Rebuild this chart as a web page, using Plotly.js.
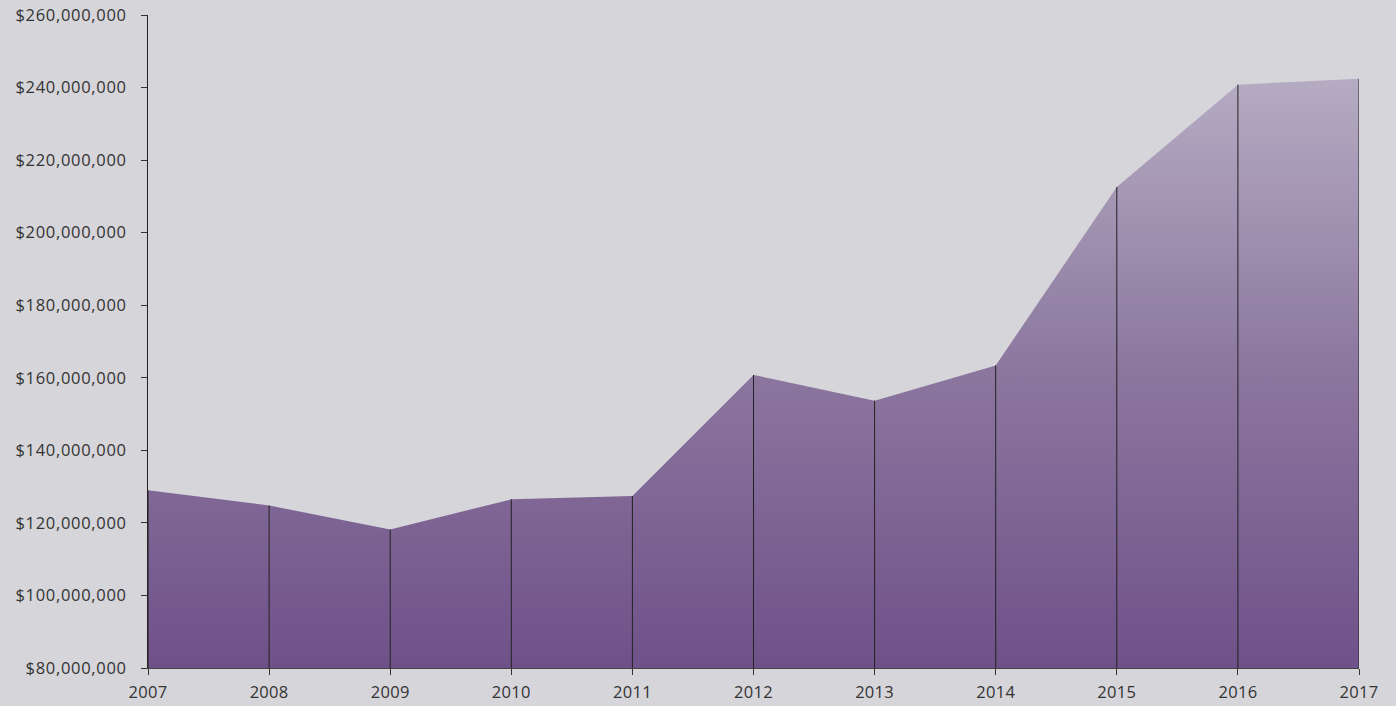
<!DOCTYPE html>
<html>
<head>
<meta charset="utf-8">
<script src="https://cdn.plot.ly/plotly-3.0.1.min.js"></script>
<style>
html,body{margin:0;padding:0;background:#d6d5da;}
#chart{width:1396px;height:706px;}
.ytick text{letter-spacing:0.7px;}
.xtick text{letter-spacing:0.3px;}
</style>
</head>
<body>
<div id="chart"></div>
<script>
const years = [2007, 2008, 2009, 2010, 2011, 2012, 2013, 2014, 2015, 2016, 2017];
const values = [129000000, 124800000, 118200000, 126500000, 127400000, 160800000, 153700000, 163400000, 212600000, 240800000, 242400000];
const yTickVals = [80000000, 100000000, 120000000, 140000000, 160000000, 180000000, 200000000, 220000000, 240000000, 260000000];
const yBase = 80000000;

// drop lines from baseline to each point
const dropX = [], dropY = [];
years.forEach((yr, i) => {
  dropX.push(yr, yr, null);
  dropY.push(yBase, values[i], null);
});

const area = {
  x: years,
  y: values,
  type: 'scatter',
  mode: 'lines',
  fill: 'tozeroy',
  line: {width: 0, color: 'rgba(0,0,0,0)'},
  fillcolor: '#8c779f',
  fillgradient: {
    type: 'vertical',
    start: yBase,
    stop: 245000000,
    colorscale: [[0, '#6f5189'], [0.5, '#8c779f'], [1, '#b6adc4']]
  },
  hoverinfo: 'x+y',
  showlegend: false
};

const drops = {
  x: dropX,
  y: dropY,
  type: 'scatter',
  mode: 'lines',
  line: {color: '#222222', width: 1},
  hoverinfo: 'skip',
  showlegend: false
};

const layout = {
  width: 1396,
  height: 706,
  paper_bgcolor: '#d6d5da',
  plot_bgcolor: '#d6d5da',
  margin: {l: 148, r: 37, t: 15, b: 38},
  font: {family: '"Open Sans", "Noto Sans", sans-serif', size: 16.5, color: '#333333'},
  showlegend: false,
  xaxis: {
    range: [2007, 2017],
    tickvals: years,
    ticktext: years.map(String),
    showgrid: false,
    zeroline: false,
    showline: true,
    linecolor: '#444444',
    linewidth: 1,
    ticks: 'outside',
    ticklen: 6,
    tickcolor: '#333333',
    ticklabelstandoff: 3,
    tickfont: {size: 16.5, color: '#333333'}
  },
  yaxis: {
    range: [80000000, 260000000],
    tickvals: yTickVals,
    tickformat: '$,.0f',
    showgrid: false,
    zeroline: false,
    showline: true,
    linecolor: '#222222',
    linewidth: 1,
    ticks: 'outside',
    ticklen: 6,
    tickcolor: '#333333',
    ticklabelstandoff: 11,
    tickfont: {size: 16.5, color: '#333333'}
  }
};

Plotly.newPlot('chart', [area, drops], layout, {displayModeBar: false, staticPlot: true});
</script>
</body>
</html>
